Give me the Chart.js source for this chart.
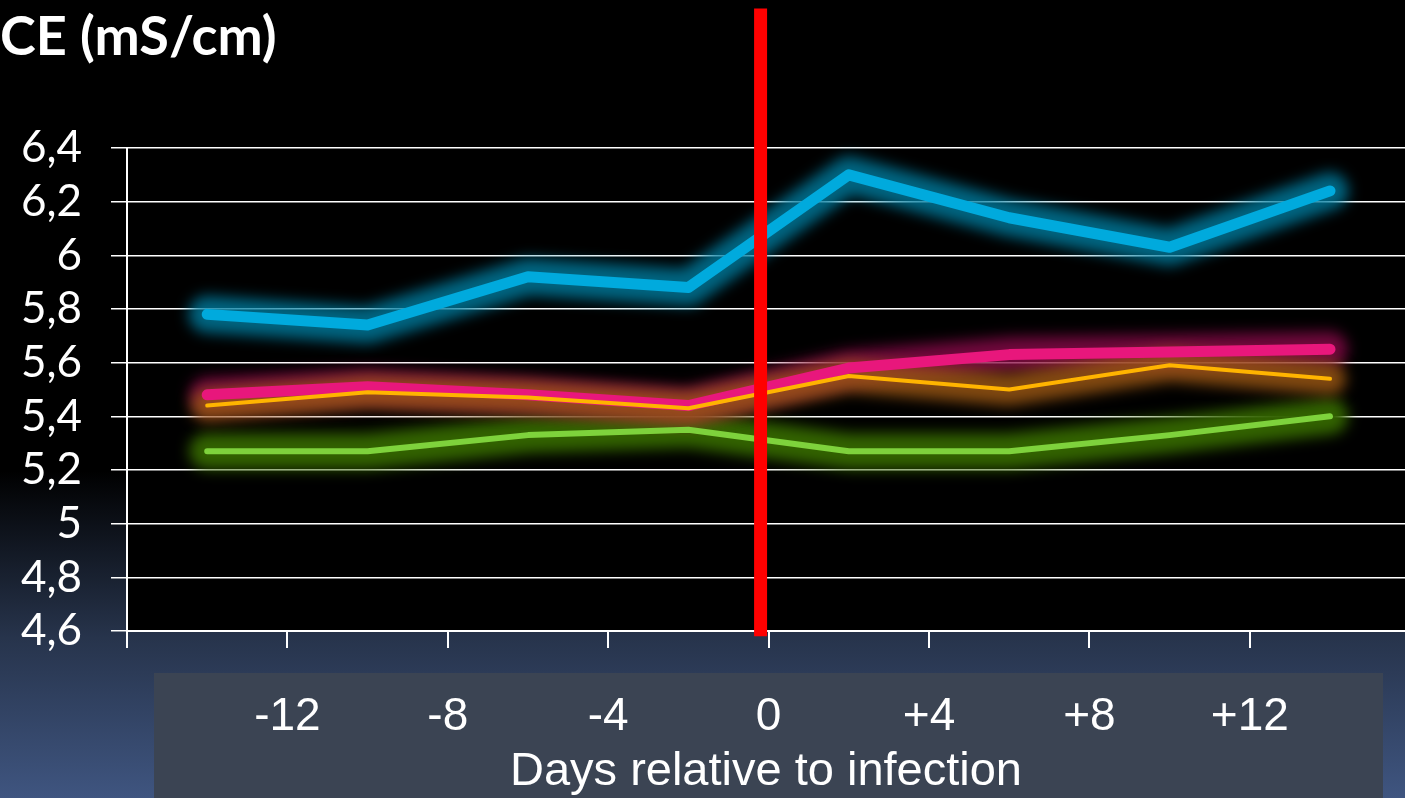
<!DOCTYPE html>
<html>
<head>
<meta charset="utf-8">
<script src="https://cdn.jsdelivr.net/npm/chart.js@4.4.1/dist/chart.umd.min.js"></script>
<style>
  html, body { margin: 0; padding: 0; background: #000; overflow: hidden; }
  #wrap { width: 1405px; height: 798px; position: relative; }
</style>
</head>
<body>
<div id="wrap"><canvas id="ce"></canvas></div>
<script>
// Sampling days relative to infection
const days = [-14, -10, -6, -2, 2, 6, 10, 14];

// Electrical conductivity (mS/cm) per group
const seriesBlue   = [5.78, 5.74, 5.92, 5.88, 6.30, 6.14, 6.03, 6.24];
const seriesPink   = [5.48, 5.51, 5.48, 5.44, 5.58, 5.63, 5.64, 5.65];
const seriesOrange = [5.44, 5.49, 5.47, 5.43, 5.55, 5.50, 5.59, 5.54];
const seriesGreen  = [5.27, 5.27, 5.33, 5.35, 5.27, 5.27, 5.33, 5.40];

// Infection marker (vertical bar)
const markerDay = -0.2;
const markerSpan = [4.58, 6.92];

// Axis ticks and their labels
const dayTicks = [-12, -8, -4, 0, 4, 8, 12];
const dayTickLabels = ['-12', '-8', '-4', '0', '+4', '+8', '+12'];
const ceTicks = [4.6, 4.8, 5.0, 5.2, 5.4, 5.6, 5.8, 6.0, 6.2, 6.4];
const ceTickLabels = ['4,6', '4,8', '5', '5,2', '5,4', '5,6', '5,8', '6', '6,2', '6,4'];

const toPoints = (vals) => days.map((d, i) => ({ x: d, y: vals[i] }));

// Background gradient, black plot area and the grey label panel
const backdrop = {
  id: 'backdrop',
  beforeDraw(chart) {
    const { ctx, width, height, chartArea } = chart;
    ctx.save();
    const g = ctx.createLinearGradient(0, 0, 0, height);
    g.addColorStop(0, '#000000');
    g.addColorStop(0.59, '#000000');
    g.addColorStop(0.80, '#27344c');
    g.addColorStop(1, '#3f5580');
    ctx.fillStyle = g;
    ctx.fillRect(0, 0, width, height);
    ctx.fillStyle = '#000000';
    ctx.fillRect(chartArea.left, 0, chartArea.right - chartArea.left, chartArea.bottom);
    ctx.fillStyle = '#3b4453';
    ctx.fillRect(154, 673, 1229, height - 673);
    ctx.restore();
  }
};

// Soft neon halos, all laid down before any series line so no halo covers a line
const glow = {
  id: 'glow',
  beforeDatasetsDraw(chart) {
    const ctx = chart.ctx;
    const metas = chart.getSortedVisibleDatasetMetas().slice().reverse();
    metas.forEach(meta => {
      const ds = chart.data.datasets[meta.index];
      if (!ds.glowColor) return;
      const pts = meta.data;
      ctx.save();
      ctx.beginPath();
      pts.forEach((p, i) => (i ? ctx.lineTo(p.x, p.y) : ctx.moveTo(p.x, p.y)));
      ctx.lineWidth = ds.borderWidth + ds.glowWidth;
      ctx.strokeStyle = ds.glowColor;
      ctx.lineJoin = 'round';
      ctx.lineCap = 'round';
      ctx.filter = 'blur(' + ds.glowBlur + 'px)';
      ctx.stroke();
      ctx.restore();
    });
  }
};

const lineBase = {
  pointRadius: 0,
  pointHoverRadius: 0,
  borderCapStyle: 'round',
  borderJoinStyle: 'round',
  tension: 0,
  fill: false
};

new Chart(document.getElementById('ce'), {
  type: 'line',
  data: {
    datasets: [
      {
        label: 'infection',
        data: markerSpan.map(v => ({ x: markerDay, y: v })),
        borderColor: '#ff0000',
        borderWidth: 13,
        pointRadius: 0,
        borderCapStyle: 'butt',
        clip: false,
        order: 0
      },
      Object.assign({}, lineBase, {
        label: 'orange',
        data: toPoints(seriesOrange),
        borderColor: '#ffb400',
        borderWidth: 4,
        glowColor: 'rgba(160,90,20,0.8)',
        glowWidth: 28,
        glowBlur: 7,
        order: 1
      }),
      Object.assign({}, lineBase, {
        label: 'pink',
        data: toPoints(seriesPink),
        borderColor: '#e8177c',
        borderWidth: 11,
        glowColor: 'rgba(140,10,75,0.8)',
        glowWidth: 24,
        glowBlur: 7,
        order: 2
      }),
      Object.assign({}, lineBase, {
        label: 'blue',
        data: toPoints(seriesBlue),
        borderColor: '#00aadd',
        borderWidth: 11,
        glowColor: 'rgba(0,125,160,0.8)',
        glowWidth: 26,
        glowBlur: 7,
        order: 3
      }),
      Object.assign({}, lineBase, {
        label: 'green',
        data: toPoints(seriesGreen),
        borderColor: '#7ed23c',
        borderWidth: 6,
        glowColor: 'rgba(50,98,0,1)',
        glowWidth: 30,
        glowBlur: 7,
        order: 4
      })
    ]
  },
  options: {
    responsive: true,
    maintainAspectRatio: false,
    animation: false,
    events: [],
    layout: { padding: 0 },
    plugins: {
      legend: { display: false },
      tooltip: { enabled: false },
      title: {
        display: true,
        text: 'CE (mS/cm)',
        align: 'start',
        color: '#ffffff',
        font: { family: 'Lato', weight: 'bold', size: 54, lineHeight: 1.2 },
        padding: { top: 5, bottom: 78.2 }
      }
    },
    scales: {
      x: {
        type: 'linear',
        min: -16,
        max: 15.87,
        afterFit(s) { s.height = 167; },
        ticks: {
          stepSize: 4,
          includeBounds: false,
          autoSkip: false,
          maxRotation: 0,
          padding: 42,
          color: '#ffffff',
          font: { family: 'Liberation Sans', size: 46, lineHeight: 1.2 },
          callback(v) {
            const i = dayTicks.indexOf(Math.round(v));
            return i >= 0 ? dayTickLabels[i] : '';
          }
        },
        grid: {
          drawOnChartArea: false,
          drawTicks: true,
          tickLength: 17,
          color: '#ffffff',
          lineWidth: 2
        },
        border: { color: '#ffffff', width: 2 },
        title: {
          display: true,
          text: 'Days relative to infection',
          color: '#ffffff',
          font: { family: 'Liberation Sans', size: 47, lineHeight: 1.1 },
          padding: { top: 0, bottom: 0 }
        }
      },
      y: {
        min: 4.6,
        max: 6.4,
        afterFit(s) { s.width = 127; },
        afterBuildTicks(s) { s.ticks = ceTicks.map(v => ({ value: v })); },
        ticks: {
          autoSkip: false,
          padding: 29,
          color: '#ffffff',
          font: { family: 'Lato', size: 44 },
          callback(v) {
            const i = ceTicks.findIndex(t => Math.abs(t - v) < 1e-6);
            return i >= 0 ? ceTickLabels[i] : '';
          }
        },
        grid: { color: '#ffffff', lineWidth: 1.5, tickLength: 16 },
        border: { color: '#ffffff', width: 2 }
      }
    }
  },
  plugins: [backdrop, glow]
});
</script>
</body>
</html>
